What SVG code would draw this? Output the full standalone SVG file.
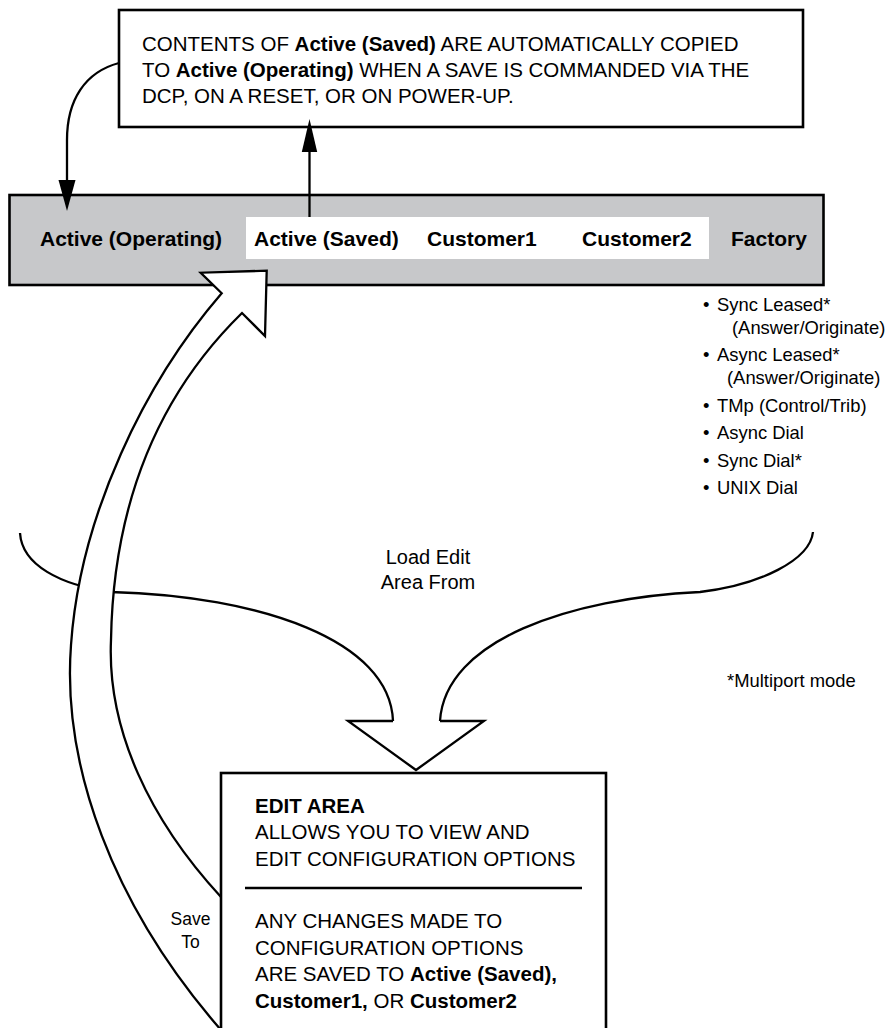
<svg xmlns="http://www.w3.org/2000/svg" width="888" height="1028" viewBox="0 0 888 1028">
<style>
text{font-family:"Liberation Sans",Arial,Helvetica,sans-serif;fill:#000}
.t{font-size:20.5px}
.bar{font-size:21px;font-weight:bold}
.li{font-size:18.4px}
.b{font-weight:bold}
.box{fill:#fff;stroke:#000;stroke-width:2.6}
.ln{fill:none;stroke:#000;stroke-width:2.3}
.hollow{fill:#fff;stroke:#000;stroke-width:2.3;stroke-linejoin:miter}
.head{fill:#000;stroke:none}
</style>
<rect width="888" height="1028" fill="#fff"/>

<g id="top-note">
<rect class="box" x="119" y="10" width="684" height="117"/>
<text class="t" x="142" y="51">CONTENTS OF <tspan class="b">Active (Saved)</tspan> ARE AUTOMATICALLY COPIED</text>
<text class="t" x="142" y="77">TO <tspan class="b">Active (Operating)</tspan> WHEN A SAVE IS COMMANDED VIA THE</text>
<text class="t" x="142" y="102.5">DCP, ON A RESET, OR ON POWER-UP.</text>
</g>

<g id="state-bar">
<rect x="9.5" y="195" width="814" height="90" fill="#c7c8ca" stroke="#000" stroke-width="2.6"/>
<rect x="246" y="217" width="463" height="42" fill="#fff"/>
<text class="bar" x="40" y="246">Active (Operating)</text>
<text class="bar" x="254" y="246">Active (Saved)</text>
<text class="bar" x="427" y="246">Customer1</text>
<text class="bar" x="582" y="246">Customer2</text>
<text class="bar" x="731" y="246">Factory</text>
</g>

<g id="factory-list">
<text class="li" x="703" y="311">•</text><text class="li" x="717" y="311">Sync Leased*</text>
<text class="li" x="732" y="334">(Answer/Originate)</text>
<text class="li" x="703" y="361">•</text><text class="li" x="717" y="361">Async Leased*</text>
<text class="li" x="727" y="383.5">(Answer/Originate)</text>
<text class="li" x="703" y="412">•</text><text class="li" x="717" y="412">TMp (Control/Trib)</text>
<text class="li" x="703" y="439">•</text><text class="li" x="717" y="439">Async Dial</text>
<text class="li" x="703" y="466.5">•</text><text class="li" x="717" y="466.5">Sync Dial*</text>
<text class="li" x="703" y="494">•</text><text class="li" x="717" y="494">UNIX Dial</text>
</g>

<g id="footnote">
<text class="li" x="727" y="687">*Multiport mode</text>
</g>

<g id="connectors">
<!-- copy to Active (Operating) -->
<path class="ln" d="M119,63 C85,72 67,100 67,140 L67,184"/>
<polygon class="head" points="67,211 58.5,180 75.5,180"/>
<!-- Active (Saved) up to note -->
<line class="ln" x1="309.5" y1="217" x2="309.5" y2="148"/>
<polygon class="head" points="309.5,119 301.8,152 317.2,152"/>
<!-- Load Edit Area From -->
<path class="ln" d="M20,533 C22,565 60,585 111,592 C260,596 390,640 393,721"/>
<path class="ln" d="M813,532 C810,560 760,585 700,592 C570,598 445,640 440,721"/>
<polyline class="ln" points="393,721 348,721 416,770 484,721 440,721" stroke-linejoin="miter"/>
<text class="t" x="428" y="563.5" text-anchor="middle" style="font-size:20px">Load Edit</text>
<text class="t" x="428" y="588.5" text-anchor="middle" style="font-size:20px">Area From</text>
<!-- Save To -->
<path class="hollow" d="M221,1030 C112,905 62,765 71,645 C80,515 145,382 221.7,293.3 L200.7,272.7 L266.7,270.7 L265,336 L242,313 C148,405 113,520 111,640 C107,730 150,820 221,897"/>
<text x="190.5" y="925" text-anchor="middle" style="font-size:17.5px">Save</text>
<text x="190.5" y="947.5" text-anchor="middle" style="font-size:17.5px">To</text>
</g>

<g id="edit-area">
<rect class="box" x="221" y="773" width="385" height="280"/>
<line x1="245" y1="888" x2="582" y2="888" stroke="#000" stroke-width="2.6"/>
<text class="t b" x="255" y="812.5">EDIT AREA</text>
<text class="t" x="255" y="839">ALLOWS YOU TO VIEW AND</text>
<text class="t" x="255" y="866">EDIT CONFIGURATION OPTIONS</text>
<text class="t" x="255" y="927.5">ANY CHANGES MADE TO</text>
<text class="t" x="255" y="954.5">CONFIGURATION OPTIONS</text>
<text class="t" x="255" y="981">ARE SAVED TO <tspan class="b">Active (Saved),</tspan></text>
<text class="t" x="255" y="1007.5"><tspan class="b">Customer1,</tspan> OR <tspan class="b">Customer2</tspan></text>
</g>
</svg>
